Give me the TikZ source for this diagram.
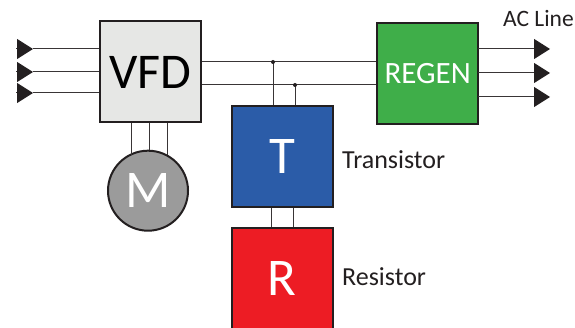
\documentclass[tikz,border=0pt]{standalone}
\usepackage{fontspec}
\setmainfont{Carlito}
\usetikzlibrary{arrows.meta}
\definecolor{vfdgray}{HTML}{E6E7E5}
\definecolor{tblue}{HTML}{2B5CA8}
\definecolor{rred}{HTML}{ED1C24}
\definecolor{regengreen}{HTML}{3FAE49}
\definecolor{mgray}{HTML}{9B9B9B}
\definecolor{ink}{HTML}{231F20}
\tikzset{
	block/.style={draw=ink,line width=2pt,minimum width=101pt,minimum height=101pt,inner sep=0pt},
	wire/.style={draw=ink!90,line width=1pt},
	feed/.style={wire,-{Triangle[length=16pt,width=20pt,color=ink,fill=ink]},shorten <=-1pt},
	lbl/.style={text=ink,font=\fontsize{26}{28}\selectfont,inner sep=0pt}
}
\begin{document}
\begin{tikzpicture}[x=1pt,y=-1pt,color=ink]
		\useasboundingbox (0,0) rectangle (575,328);
		% blocks
		\node[block,fill=vfdgray,text=black,font=\fontsize{50}{52}\selectfont] (VFD) at (150.5,72) {VFD};
		\node[block,fill=regengreen,text=white,font=\fontsize{31}{32}\selectfont] (REGEN) at (427.7,73.3) {REGEN};
		\node[block,fill=tblue,text=white,font=\fontsize{53}{54}\selectfont] (T) at (282,156.5) {T};
		\node[block,fill=rred,text=white,font=\fontsize{53}{54}\selectfont] (R) at (282,278.2) {R};
		\node[draw=ink,line width=2pt,circle,fill=mgray,text=white,minimum size=80pt,inner sep=0pt,font=\fontsize{53}{54}\selectfont] (M) at (148,190.7) {M};
		% labels
		\node[lbl,anchor=west] (Tlabel) at (342,160) {Transistor};
		\node[lbl,anchor=west] (Rlabel) at (342,277) {Resistor};
		\node[lbl,anchor=east,font=\fontsize{23.5}{25}\selectfont] (AClabel) at (574,19) {AC Line};
		% bus between the drive and the regen unit
		\coordinate (J1) at (273,62);
		\coordinate (J2) at (295,85);
		\draw[wire] (VFD.east |- J1) -- (REGEN.west |- J1);
		\draw[wire] (VFD.east |- J2) -- (REGEN.west |- J2);
		\draw[wire] (J1) -- (J1 |- T.north);
		\draw[wire] (J2) -- (J2 |- T.north);
		\fill (J1) circle (2pt);
		\fill (J2) circle (2pt);
		% line side
		\foreach \y in {49,72,93}
		{
		\coordinate (In) at (17,\y);
		\coordinate (InTip) at (33,\y);
		\draw[feed] (In) -- (InTip);
		\draw[wire] (InTip) -- (VFD.west |- InTip);
		}
		\foreach \y in {49,73,97}
		{
		\coordinate (Out) at (550,\y);
		\draw[feed] (REGEN.east |- Out) -- (Out);
		}
		% motor leads
		\foreach \x/\yend in {131/155,149/150,167/155}
		{
		\coordinate (Lead) at (\x,\yend);
		\draw[wire] (VFD.south -| Lead) -- (Lead);
		}
		% transistor to resistor
		\foreach \x in {271,293}
		{
		\coordinate (Link) at (\x,200);
		\draw[wire] (T.south -| Link) -- (R.north -| Link);
		}
		\end{tikzpicture}
\end{document}
